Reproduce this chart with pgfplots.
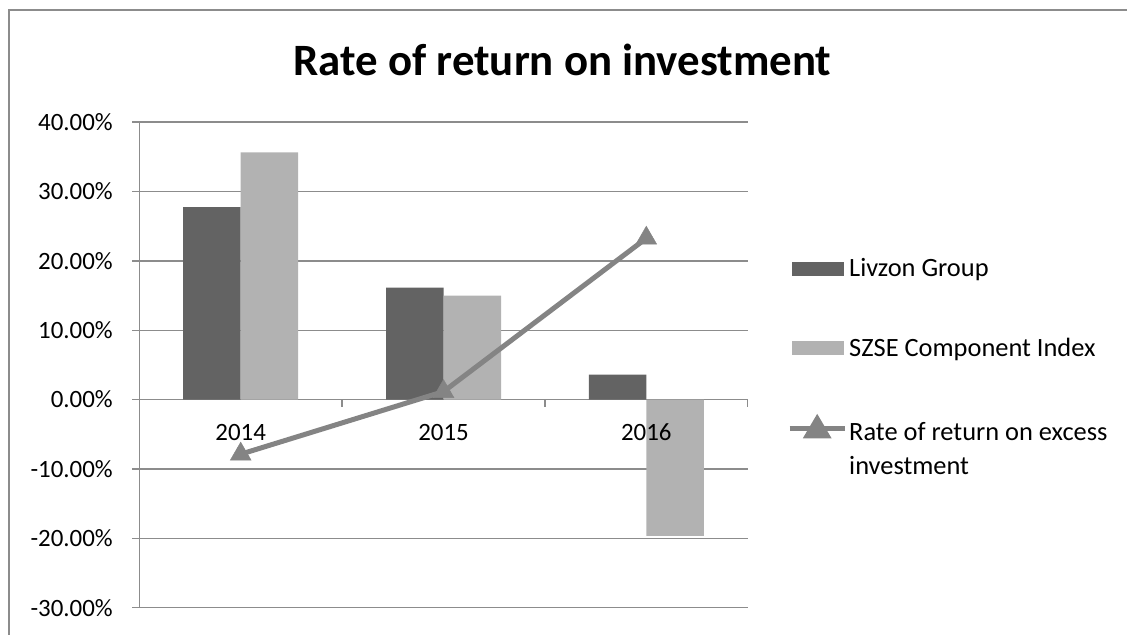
\documentclass[border=0pt]{standalone}
\usepackage{fontspec}
\setmainfont{Carlito}
\usepackage{pgfplots}
\pgfplotsset{compat=1.18}
\definecolor{darkbar}{HTML}{636363}
\definecolor{lightbar}{HTML}{B2B2B2}
\definecolor{linegray}{HTML}{848484}
\definecolor{gridgray}{HTML}{8C8C8C}
\pgfplotsset{
  common/.style={
    at={(139.3bp,-607.7bp)}, anchor=south west,
    scale only axis, width=608.4bp, height=485.6bp,
    xmin=-0.5, xmax=2.5, ymin=-30, ymax=40,
    axis x line=middle, axis y line=left,
    /pgf/number format/assume math mode=true,
    tick label style={font=\fontsize{25}{30}\selectfont, text=black},
    clip=false,
  }
}
\begin{document}
\begin{tikzpicture}
\begin{axis}[
  common,
  axis line style={gridgray, line width=1.3bp, -},
  ytick={-30,-20,...,40},
  ymajorgrids, grid style={gridgray, line width=1.3bp},
  yticklabel={\pgfmathprintnumber[fixed,fixed zerofill,precision=2]{\tick}\%},
  ytick style={gridgray, line width=1.3bp},
  ytick align=outside, major tick length=7bp,
  yticklabel style={xshift=-16bp},
  xtick={-0.5,0.5,1.5,2.5}, xticklabels={},
  xtick style={draw=gridgray, line width=1.3bp}, xtick align=outside,
  legend style={at={(1.0646,0.723)}, anchor=north west, draw=none, fill=none,
     font=\fontsize{26.5}{34}\selectfont, inner sep=0pt, row sep=56bp,
     cells={anchor=west, align=left}},
  legend cell align=left,
]
\addplot[ybar, bar width=57.5bp, bar shift=-28.75bp, fill=darkbar, draw=none,
  legend image code/.code={\fill[darkbar] (0bp,-7bp) rectangle (52bp,7bp);}]
  coordinates {(0,27.75) (1,16.13) (2,3.6)};
\addlegendentry{Livzon Group}
\addplot[ybar, bar width=57.5bp, bar shift=28.75bp, fill=lightbar, draw=none,
  legend image code/.code={\fill[lightbar] (0bp,-7bp) rectangle (52bp,7bp);}]
  coordinates {(0,35.62) (1,14.98) (2,-19.64)};
\addlegendentry{SZSE Component Index}
\addplot[linegray, line width=5bp, mark=triangle*, mark size=12bp, mark options={solid, fill=linegray, draw=linegray, line width=0.5bp},
  legend image code/.code={\draw[linegray, line width=5bp] (-2bp,20bp) -- (53bp,20bp);
     \fill[linegray] (15.5bp,13bp) -- (35.5bp,13bp) -- (25.5bp,30bp) -- cycle;}]
  coordinates {(0,-7.87) (1,1.15) (2,23.26)};
\addlegendentry{Rate of return on excess\\investment}
\end{axis}
% overlay axis carrying the category labels, drawn above the bars
\begin{axis}[
  common,
  axis line style={draw=none},
  ytick=\empty,
  xtick={0,1,2}, xticklabels={2014,2015,2016},
  major tick length=0pt,
  xticklabel style={anchor=north, yshift=-21bp},
]
\end{axis}
\draw[gridgray, line width=2bp] (9bp,-700bp) -- (9bp,-10bp) -- (1200bp,-10bp);
\node[font=\fontsize{45}{54}\selectfont\bfseries, anchor=base, inner sep=0pt] at (562.5bp,-75bp) {Rate of return on investment};
\pgfresetboundingbox
\useasboundingbox (0bp,0bp) rectangle (1127bp,-635bp);
\end{tikzpicture}
\end{document}
